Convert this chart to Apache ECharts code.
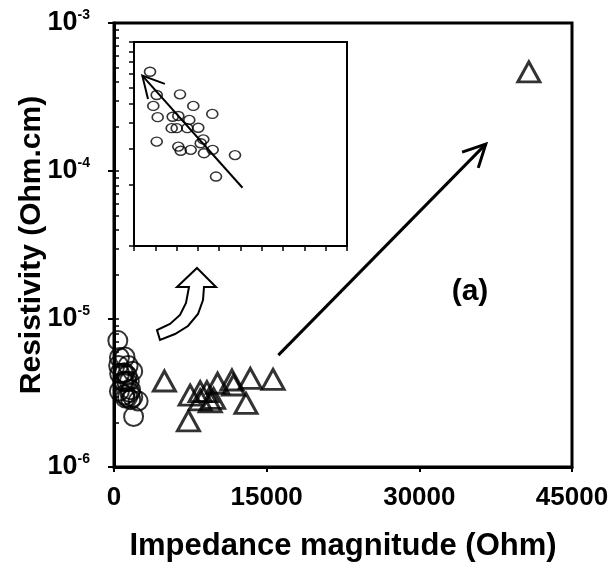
<!DOCTYPE html>
<html>
<head>
<meta charset="utf-8"/>
<title>Resistivity vs impedance magnitude</title>
<script src="https://cdn.jsdelivr.net/npm/echarts@6/dist/echarts.min.js"></script>
<style>
    html, body { margin: 0; padding: 0; background: #fff; }
    #chart { width: 608px; height: 571px; }
</style>
</head>
<body>
<div id="chart"></div>
<script>
// circles: low impedance samples (also shown enlarged in the inset)
var circleImpedance = [376, 533, 453, 556, 533, 1080, 1392, 1838, 908, 1040, 1298, 885, 1002, 1251, 1509, 1627, 1566, 1040, 1096, 1331, 1643, 1847, 2371, 1925];
var circleResistivity = [7.15e-6, 5.50e-6, 4.86e-6, 4.28e-6, 3.25e-6, 5.54e-6, 4.86e-6, 4.44e-6, 4.30e-6, 4.34e-6, 4.15e-6, 3.78e-6, 3.78e-6, 3.78e-6, 3.80e-6, 3.33e-6, 3.19e-6, 3.07e-6, 2.93e-6, 2.96e-6, 2.85e-6, 2.96e-6, 2.79e-6, 2.19e-6];
// triangles
var triImpedance = [4953, 7484, 7316, 9128, 10172, 9778, 8468, 11590, 11747, 13392, 12969, 15627, 9453, 8468, 40760];
var triResistivity = [3.81e-6, 3.06e-6, 2.05e-6, 3.23e-6, 3.68e-6, 2.91e-6, 2.84e-6, 3.87e-6, 3.58e-6, 3.97e-6, 2.69e-6, 3.91e-6, 2.76e-6, 3.23e-6, 4.67e-4];
// axis ranges
var xRange = [0, 45000];
var xInterval = 15000;
var yRange = [1e-6, 1e-3];
var insetXRange = [0, 5000];
var insetXInterval = 500;
var insetYRange = [1e-6, 1e-5];
// arrows (data coordinates)
var trendArrow = [[16150, 5.7e-6], [36530, 1.52e-4]];
var insetArrow = [[2547, 1.93e-6], [195, 6.84e-6]];

var FONT = '"Liberation Sans", Arial, sans-serif';

var pairs = function (xs, ys) {
    return xs.map(function (x, i) { return [x, ys[i]]; });
};

// log-space positions for minor ticks (2..9 of every decade)
var logTicks = function (lo, hi) {
    var out = [];
    for (var e = lo; e < hi; e++) {
        for (var k = 1; k < 10; k++) out.push(e + Math.log10(k));
    }
    out.push(hi);
    return out;
};

var chart = echarts.init(document.getElementById('chart'));

var option = {
    animation: false,
    grid: [
        {left: 114, top: 23, width: 458, height: 444, show: true, borderColor: '#000', borderWidth: 3, outerBoundsMode: 'none', containLabel: false},
        {left: 134, top: 42, width: 213, height: 204, show: true, borderColor: '#000', borderWidth: 2, backgroundColor: '#fff', outerBoundsMode: 'none', containLabel: false}
    ],
    xAxis: [
        {
            gridIndex: 0, type: 'value', min: xRange[0], max: xRange[1], interval: xInterval,
            axisLine: {onZero: false, lineStyle: {color: '#000', width: 3}},
            axisTick: {inside: false, length: 5, lineStyle: {color: '#000', width: 2}},
            axisLabel: {
                color: '#000', fontSize: 26, fontWeight: 'bold', fontFamily: FONT, margin: 18,
                formatter: function (v) { return String(v); }
            },
            splitLine: {show: false},
            name: 'Impedance magnitude (Ohm)', nameLocation: 'middle', nameGap: 64, nameMoveOverlap: false,
            nameTextStyle: {color: '#000', fontSize: 31, fontWeight: 'bold', fontFamily: FONT}
        },
        {
            gridIndex: 1, type: 'value', min: insetXRange[0], max: insetXRange[1], interval: insetXInterval,
            axisLine: {onZero: false, lineStyle: {color: '#000', width: 2}},
            axisTick: {inside: false, length: 5, lineStyle: {color: '#000', width: 1.5}},
            axisLabel: {show: false},
            splitLine: {show: false}
        }
    ],
    yAxis: [
        {
            gridIndex: 0, type: 'log', logBase: 10, min: yRange[0], max: yRange[1], position: 'left',
            axisLine: {lineStyle: {color: '#000', width: 3}},
            axisTick: {inside: false, length: 6, lineStyle: {color: '#000', width: 2}},
            axisLabel: {
                margin: 24,
                formatter: function (v) {
                    return '{b|10}{s|' + Math.round(Math.log10(v)) + '}';
                },
                rich: {
                    b: {fontSize: 27, fontWeight: 'bold', fontFamily: FONT, color: '#000', lineHeight: 30},
                    s: {fontSize: 14, fontWeight: 'bold', fontFamily: FONT, color: '#000', verticalAlign: 'top', lineHeight: 14}
                }
            },
            splitLine: {show: false},
            name: 'Resistivity (Ohm.cm)', nameLocation: 'middle', nameGap: 67, nameMoveOverlap: false,
            nameTextStyle: {color: '#000', fontSize: 30, fontWeight: 'bold', fontFamily: FONT}
        },
        {
            // minor ticks of the main log axis
            gridIndex: 0, type: 'value', min: -6, max: -3, position: 'left',
            axisLine: {show: false},
            axisTick: {show: true, inside: true, length: 5, customValues: logTicks(-6, -3), lineStyle: {color: '#000', width: 1.5}},
            axisLabel: {show: false},
            splitLine: {show: false}
        },
        {
            gridIndex: 1, type: 'log', logBase: 10, min: insetYRange[0], max: insetYRange[1], position: 'left',
            axisLine: {lineStyle: {color: '#000', width: 2}},
            axisTick: {show: false},
            axisLabel: {show: false},
            splitLine: {show: false}
        },
        {
            gridIndex: 1, type: 'value', min: -6, max: -5, position: 'left',
            axisLine: {show: false},
            axisTick: {show: true, inside: false, length: 5, customValues: logTicks(-6, -5), lineStyle: {color: '#000', width: 1.5}},
            axisLabel: {show: false},
            splitLine: {show: false}
        }
    ],
    series: [
        {
            type: 'scatter', xAxisIndex: 0, yAxisIndex: 0, silent: true,
            symbol: 'circle', symbolSize: 19,
            itemStyle: {color: 'rgba(0,0,0,0)', borderColor: '#000', borderWidth: 2},
            data: pairs(circleImpedance, circleResistivity)
        },
        {
            type: 'scatter', xAxisIndex: 0, yAxisIndex: 0, silent: true,
            symbol: 'triangle', symbolSize: [22, 20],
            itemStyle: {color: 'rgba(0,0,0,0)', borderColor: '#000', borderWidth: 3},
            data: pairs(triImpedance, triResistivity)
        },
        {
            type: 'scatter', xAxisIndex: 1, yAxisIndex: 2, silent: true,
            symbol: 'circle', symbolSize: [11, 9],
            itemStyle: {color: 'rgba(0,0,0,0)', borderColor: '#000', borderWidth: 1.5},
            data: pairs(circleImpedance, circleResistivity)
        }
    ]
};
chart.setOption(option);

// arrows drawn from data coordinates
var arrowEls = function (p0, p1, len, ang, w) {
    var a = Math.atan2(p0[1] - p1[1], p0[0] - p1[0]);
    var s = {stroke: '#000', lineWidth: w, fill: null};
    return [
        {type: 'line', shape: {x1: p0[0], y1: p0[1], x2: p1[0], y2: p1[1]}, style: s, silent: true},
        {
            type: 'polyline', silent: true, style: s,
            shape: {points: [
                [p1[0] + len * Math.cos(a + ang), p1[1] + len * Math.sin(a + ang)],
                p1,
                [p1[0] + len * Math.cos(a - ang), p1[1] + len * Math.sin(a - ang)]
            ]}
        }
    ];
};

var m0 = chart.convertToPixel({gridIndex: 0}, trendArrow[0]);
var m1 = chart.convertToPixel({gridIndex: 0}, trendArrow[1]);
var i0 = chart.convertToPixel({gridIndex: 1}, insetArrow[0]);
var i1 = chart.convertToPixel({gridIndex: 1}, insetArrow[1]);

var graphics = [].concat(
    arrowEls(m0, m1, 25, 0.47, 3),
    arrowEls(i0, i1, 24, 0.49, 2),
    [
        {
            // hollow curved arrow pointing to the inset
            type: 'polygon', silent: true,
            shape: {points: [[197, 268], [216, 287], [204, 287], [203, 300], [198, 314], [188, 326], [175, 334], [160, 340],
                [157, 330], [170, 324], [180, 315], [186, 303], [189, 287], [177, 287]]},
            style: {fill: '#fff', stroke: '#000', lineWidth: 2}
        },
        {
            type: 'text', x: 470, y: 292, silent: true,
            style: {text: '(a)', font: 'bold 30px ' + FONT, fill: '#000', align: 'center', verticalAlign: 'middle'}
        }
    ]
);
chart.setOption({graphic: graphics});
</script>
</body>
</html>
